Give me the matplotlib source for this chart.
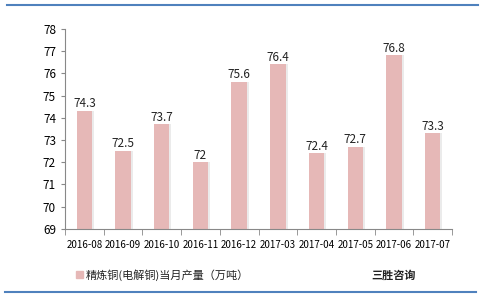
import matplotlib.pyplot as plt
import numpy as np

plt.rcParams['font.family'] = ['Noto Sans CJK SC', 'DejaVu Sans']

months = ['2016-08', '2016-09', '2016-10', '2016-11', '2016-12',
          '2017-03', '2017-04', '2017-05', '2017-06', '2017-07']
output = [74.3, 72.5, 73.7, 72, 75.6, 76.4, 72.4, 72.7, 76.8, 73.3]
labels = ['74.3', '72.5', '73.7', '72', '75.6', '76.4', '72.4', '72.7', '76.8', '73.3']

fig = plt.figure(figsize=(5, 3), dpi=100)
ax = fig.add_axes([0.13, 0.237, 0.774, 0.667])

x = np.arange(len(months))
# light shadow behind bars
ax.bar(x + 0.05, np.array(output) - 69, width=0.4, bottom=69, color='#ebebeb', zorder=1)
ax.bar(x, np.array(output) - 69, width=0.4, bottom=69, color='#e6b8b7', zorder=2)

for xi, v, t in zip(x, output, labels):
    ax.text(xi, v + 0.03, t, ha='center', va='bottom', fontsize=8.5, color='#222222')

ax.set_ylim(69, 78)
ax.set_xlim(-0.5, len(months) - 0.5)
ax.set_yticks(range(69, 79))
ax.set_xticks(x)
ax.set_xticklabels(months, fontsize=7)
ax.tick_params(axis='y', labelsize=8.5, length=3, color='#888888')
ax.tick_params(axis='x', length=0, pad=8)
ax.set_xticks(np.arange(-0.5, len(months)), minor=True)
ax.tick_params(axis='x', which='minor', length=4, color='#888888')
for s in ['top', 'right']:
    ax.spines[s].set_visible(False)
ax.spines['left'].set_color('#888888')
ax.spines['bottom'].set_color('#888888')

# legend
fig.patches.append(plt.Rectangle((0.152, 0.072), 0.014, 0.025, transform=fig.transFigure,
                                 color='#e6b8b7', figure=fig))
fig.text(0.172, 0.083, '精炼铜(电解铜)当月产量（万吨）', fontsize=8, va='center', color='#222222')
fig.text(0.742, 0.083, '三胜咨询', fontsize=8, va='center', color='#222222', fontweight='bold')

# blue frame lines
fig.add_artist(plt.Line2D([0.014, 0.956], [0.983, 0.983], color='#4f81bd', lw=1.5))
fig.add_artist(plt.Line2D([0.01, 0.952], [0.027, 0.027], color='#4f81bd', lw=1.5))

fig.savefig('out.png', dpi=100)
